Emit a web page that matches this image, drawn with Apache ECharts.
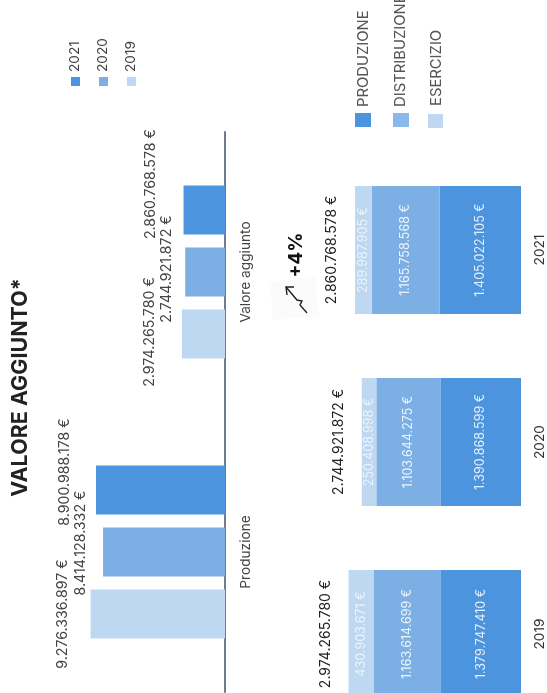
<!DOCTYPE html>
<html><head><meta charset="utf-8">
<style>html,body{margin:0;padding:0;background:#fff;overflow:hidden}#c{width:547px;height:693px}</style>
<script src="https://cdn.jsdelivr.net/npm/echarts@6/dist/echarts.min.js"></script></head>
<body><div id="c"></div>
<script>
const FONT = 'Inter, "Noto Sans", sans-serif';
const C21 = '#4c94dd', C20 = '#7cb0e5', C19 = '#bfd8f2';
const groups = ['Produzione', 'Valore aggiunto'];
const yearsLabels = ['2019', '2020', '2021'];
const values2019 = [9276336897, 2974265780];
const values2020 = [8414128332, 2744921872];
const values2021 = [8900988178, 2860768578];
const produzione = [1379747410, 1390868599, 1405022105];
const distribuzione = [1163614699, 1103644275, 1165758568];
const esercizio = [430903671, 250408998, 289987905];
const totali = [2974265780, 2744921872, 2860768578];
const titleText = 'VALORE AGGIUNTO*';
const changeText = '+4%';

const euro = v => String(v).replace(/\B(?=(\d{3})+$)/g, '.') + ' €';
const fmt = p => euro(p.value);
// label offsets act in the rotated text frame: convert a screen shift
const nudge = (dx, dy) => [-dy, dx];

function groupSeries(name, arr, color, offs) {
  return {
    name, type: 'bar', xAxisIndex: 0, yAxisIndex: 0, barWidth: 49, barGap: '26.5%',
    itemStyle: { color },
    data: arr.map((v, i) => ({
      value: v,
      label: { show: true, position: 'left', distance: 0, rotate: 90, align: 'center', verticalAlign: 'middle',
        offset: nudge(offs[i][0], offs[i][1]), formatter: fmt, color: '#444', fontSize: 14.2, fontFamily: FONT }
    }))
  };
}
function stackSeries(name, arr, color, lblColor) {
  return {
    name, type: 'bar', stack: 'tot', xAxisIndex: 1, yAxisIndex: 1, barWidth: 128,
    itemStyle: { color },
    label: { show: true, position: 'inside', rotate: 90, formatter: fmt, color: lblColor, fontSize: 12.5, fontFamily: FONT },
    data: arr
  };
}
function vText(x, y, text, size, color, align, weight) {
  return { type: 'text', x, y, rotation: Math.PI / 2, z: 10,
    style: { text, fill: color, fontSize: size, fontFamily: FONT, fontWeight: weight || 'normal',
      textAlign: align, textVerticalAlign: 'middle', verticalAlign: 'middle' } };
}
function sq(x, y, w, h, color) {
  return { type: 'rect', shape: { x, y, width: w, height: h }, style: { fill: color } };
}

const chart = echarts.init(document.getElementById('c'), null, { renderer: 'canvas' });
chart.setOption({
  animation: false,
  grid: [
    { left: 7.6, width: 217.4, top: 132, height: 560, outerBoundsMode: 'none' },
    { left: 4.8, width: 516.2, top: 154, height: 576, outerBoundsMode: 'none' }
  ],
  xAxis: [
    { type: 'value', gridIndex: 0, inverse: true, min: 0, max: 15e9, show: false },
    { type: 'value', gridIndex: 1, inverse: true, min: 0, max: 8.9e9, show: false }
  ],
  yAxis: [
    { type: 'category', gridIndex: 0, data: groups, position: 'right',
      axisLine: { show: true, lineStyle: { color: '#6f7b8f', width: 2 } }, axisTick: { show: false },
      axisLabel: { rotate: 90, margin: 14, color: '#444', fontSize: 13.7, fontFamily: FONT } },
    { type: 'category', gridIndex: 1, data: yearsLabels, position: 'right',
      axisLine: { show: false }, axisTick: { show: false },
      axisLabel: { rotate: 90, margin: 12, color: '#333', fontSize: 13.7, fontFamily: FONT } }
  ],
  series: [
    groupSeries('2021', values2021, C21, [[-31, -18], [-33, -26]]),
    groupSeries('2020', values2020, C20, [[-22, -9], [-18, -3]]),
    groupSeries('2019', values2019, C19, [[-28, 0], [-32, -2]]),
    stackSeries('PRODUZIONE', produzione, C21, 'rgba(255,255,255,0.85)'),
    stackSeries('DISTRIBUZIONE', distribuzione, C20, 'rgba(255,255,255,0.85)'),
    stackSeries('ESERCIZIO', esercizio, C19, 'rgba(255,255,255,0.7)'),
    { name: 'Totale', type: 'bar', xAxisIndex: 1, yAxisIndex: 1, barWidth: 128, barGap: '-100%', silent: true,
      itemStyle: { color: 'transparent' },
      label: { show: true, position: 'left', distance: 0, rotate: 90, align: 'center', verticalAlign: 'middle',
        offset: nudge(-23, 0), formatter: fmt, color: '#222', fontSize: 14, fontFamily: FONT },
      data: totali }
  ],
  graphic: { elements: [
    vText(21, 387.5, titleText, 21.5, '#222', 'center', 'bold'),
    sq(71, 77, 9, 9, C21), vText(75, 72, yearsLabels[2], 13.7, '#444', 'left'),
    sq(99, 77, 9, 9, C20), vText(103, 72, yearsLabels[1], 13.7, '#444', 'left'),
    sq(127, 77, 9, 9, C19), vText(131, 72, yearsLabels[0], 13.7, '#444', 'left'),
    sq(355, 113, 16, 14, C21), vText(364, 107, 'PRODUZIONE', 14.8, '#555', 'left'),
    sq(393, 113, 16, 14, '#8ab8ea'), vText(401, 107, 'DISTRIBUZIONE', 14.8, '#555', 'left'),
    sq(428, 114, 15, 14, C19), vText(436.5, 106, 'ESERCIZIO', 14.8, '#555', 'left'),
    vText(296, 255, changeText, 19, '#111', 'center', 'bold'),
    { type: 'polygon', shape: { points: [[271, 282], [315, 276], [319, 316], [272, 320]] }, style: { fill: '#fbfbfb' } },
    { type: 'polyline', z: 5, shape: { points: [[307, 313], [300, 305], [302, 301], [297, 300], [286, 287]] },
      style: { stroke: '#222', lineWidth: 1.4, fill: 'none' } },
    { type: 'polyline', z: 5, shape: { points: [[294, 287], [286, 287], [287, 295]] },
      style: { stroke: '#222', lineWidth: 1.4, fill: 'none' } }
  ] }
});
</script></body></html>
